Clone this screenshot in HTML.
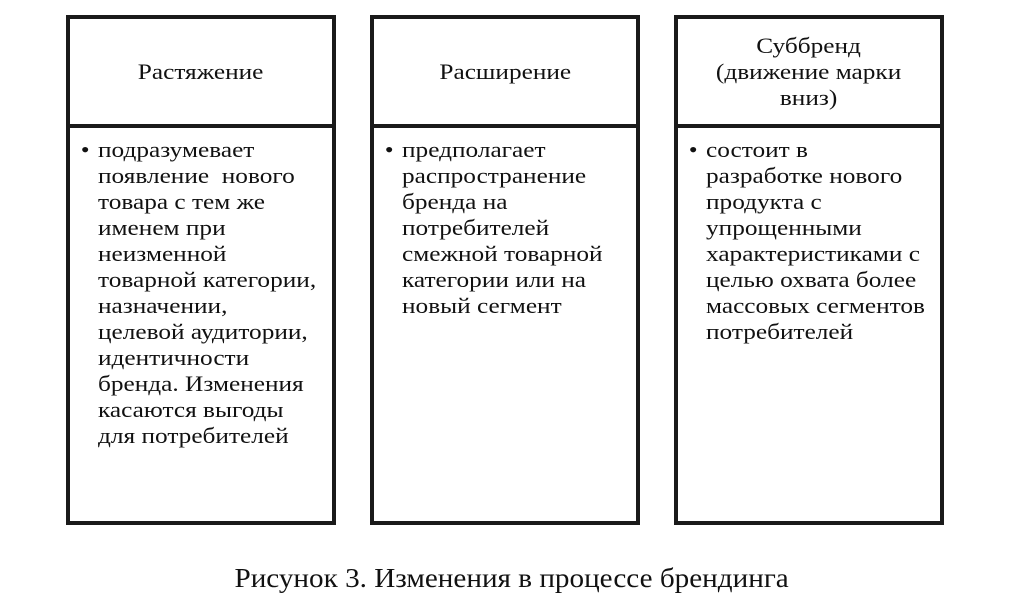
<!DOCTYPE html>
<html><head><meta charset="utf-8"><style>
body{margin:0;width:1024px;height:615px;background:#fff;position:relative;font-family:"Liberation Serif",serif;color:#111;overflow:hidden}
.box{position:absolute;top:15px;width:270px;height:510px;border:4px solid #1a1a1a;box-sizing:border-box}
.hd{position:absolute;left:0;right:0;top:0;height:105px;border-bottom:4px solid #1a1a1a;display:flex;align-items:center;justify-content:center;text-align:center;font-size:22px;line-height:26px}
.hd span{display:inline-block;transform:scaleX(1.15);white-space:nowrap}
.bd{position:absolute;top:118px;left:28px;width:200px;font-size:22px;line-height:26px;transform:scaleX(1.15);transform-origin:0 0;white-space:nowrap}
.bd:before{content:"•";position:absolute;left:-15px}
.cap{position:absolute;top:563px;left:0;width:1024px;text-align:center;font-size:27px}
.cap span{display:inline-block;transform:scaleX(1.08)}
</style></head><body>
<div class="box" style="left:66px"><div class="hd"><span>Растяжение</span></div><div class="bd">подразумевает<br>появление&nbsp; нового<br>товара с тем же<br>именем при<br>неизменной<br>товарной категории,<br>назначении,<br>целевой аудитории,<br>идентичности<br>бренда. Изменения<br>касаются выгоды<br>для потребителей</div></div>
<div class="box" style="left:370px"><div class="hd"><span>Расширение</span></div><div class="bd">предполагает<br>распространение<br>бренда на<br>потребителей<br>смежной товарной<br>категории или на<br>новый сегмент</div></div>
<div class="box" style="left:674px"><div class="hd"><span>Суббренд<br>(движение марки<br>вниз)</span></div><div class="bd">состоит в<br>разработке нового<br>продукта с<br>упрощенными<br>характеристиками с<br>целью охвата более<br>массовых сегментов<br>потребителей</div></div>
<div class="cap"><span>Рисунок 3. Изменения в процессе брендинга</span></div>
</body></html>
